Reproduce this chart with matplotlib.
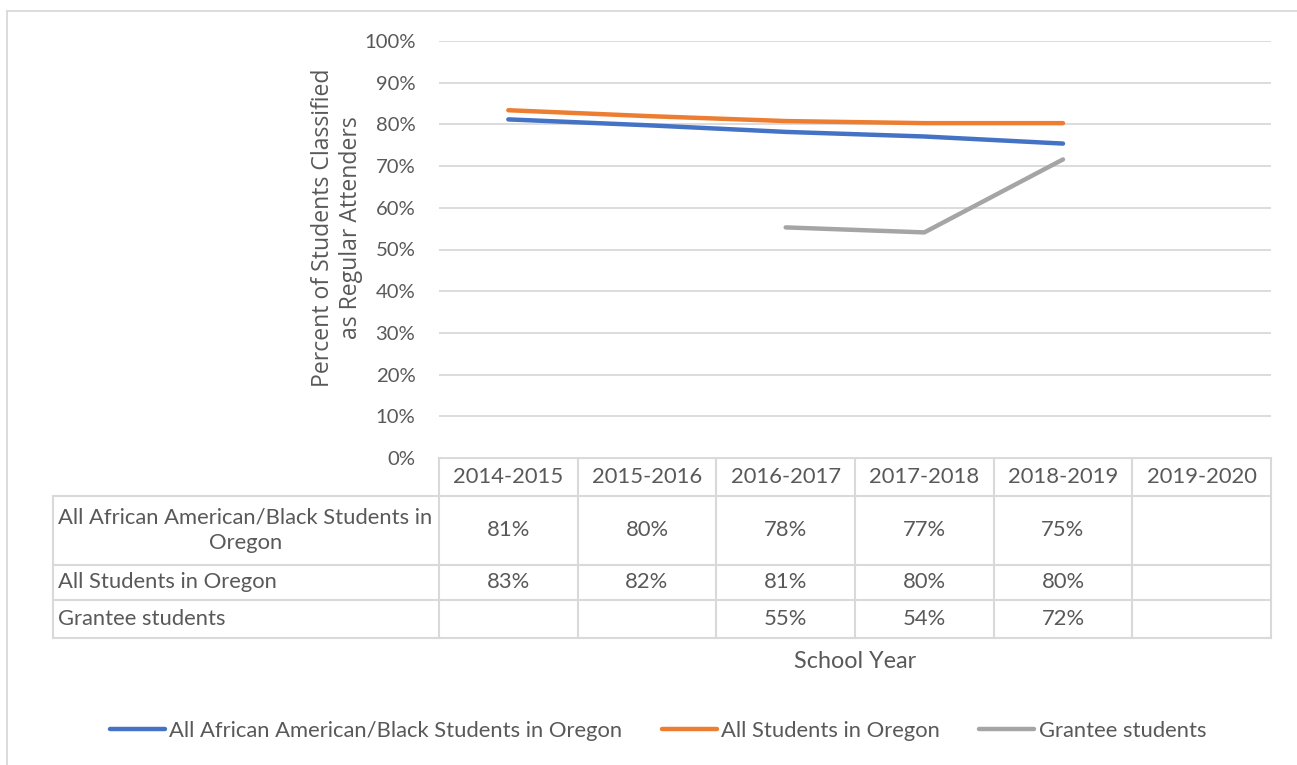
import matplotlib
matplotlib.use("Agg")
import matplotlib.pyplot as plt
import numpy as np

plt.rcParams['font.family'] = ['Lato', 'DejaVu Sans']

years = ['2014-2015', '2015-2016', '2016-2017', '2017-2018', '2018-2019', '2019-2020']
series_names = ['All African American/Black Students in Oregon',
                'All Students in Oregon',
                'Grantee students']
black_students = [0.812, 0.798, 0.782, 0.771, 0.754, np.nan]
all_students = [0.834, 0.820, 0.808, 0.803, 0.803, np.nan]
grantee = [np.nan, np.nan, 0.553, 0.541, 0.716, np.nan]
series = [black_students, all_students, grantee]
colors = ['#4472C4', '#ED7D31', '#A5A5A5']

W, H = 1297, 765
txt = '#595959'
grid = '#D9D9D9'
fs = 15.8

fig = plt.figure(figsize=(W / 100, H / 100), dpi=100)

# pixel helpers
def fx(px):
    return px / W

def fy(py):
    return 1 - py / H

x_left, x_right = 439, 1271
y_top, y_zero = 41, 458
ax = fig.add_axes([fx(x_left), fy(y_zero), fx(x_right - x_left), (y_zero - y_top) / H])
x = np.arange(len(years))
lines = []
for vals, c, name in zip(series, colors, series_names):
    ln, = ax.plot(x, vals, color=c, lw=3.2, solid_capstyle='round', label=name)
    lines.append(ln)
ax.set_xlim(-0.5, len(years) - 0.5)
ax.set_ylim(0, 1)
ax.set_yticks(np.arange(0, 1.01, 0.1))
ax.set_yticklabels([f'{int(round(t * 100))}%' for t in ax.get_yticks()], color=txt, fontsize=14.6)
ax.tick_params(axis='y', length=0, pad=17)
ax.set_xticks([])
for s in ax.spines.values():
    s.set_visible(False)
ax.yaxis.grid(True, color=grid, lw=1.3)
ax.set_axisbelow(True)

fig.text(fx(337), fy(228), 'Percent of Students Classified\nas Regular Attenders',
         rotation=90, ha='center', va='center', color=txt, fontsize=16.6,
         family=['Open Sans', 'DejaVu Sans'], linespacing=1.2)

# overlay in pixel coordinates for the data table and frame
ov = fig.add_axes([0, 0, 1, 1], zorder=-1)
ov.set_xlim(0, W)
ov.set_ylim(H, 0)
ov.axis('off')

ov.plot([7, 7], [11, H], color=grid, lw=1.3)
ov.plot([7, W], [11, 11], color=grid, lw=1.3)

col_edges = np.linspace(x_left, x_right, len(years) + 1)
row_edges = [458, 496, 565, 600, 638]
tbl_left = 53
lw_t = 1.5
# horizontal lines
ov.plot([x_left, x_right], [row_edges[0]] * 2, color=grid, lw=lw_t)
for r in row_edges[1:]:
    ov.plot([tbl_left, x_right], [r, r], color=grid, lw=lw_t)
# vertical lines
for c in col_edges:
    ov.plot([c, c], [row_edges[0], row_edges[-1]], color=grid, lw=lw_t)
ov.plot([tbl_left, tbl_left], [row_edges[1], row_edges[-1]], color=grid, lw=lw_t)

centers = (col_edges[:-1] + col_edges[1:]) / 2
hdr_y = (row_edges[0] + row_edges[1]) / 2
for cx, yr in zip(centers, years):
    ov.text(cx, hdr_y, yr, ha='center', va='center', color=txt, fontsize=fs)

row_labels = ['All African American/Black Students in\nOregon', series_names[1], series_names[2]]
for i, (lab, vals) in enumerate(zip(row_labels, series)):
    cy = (row_edges[i + 1] + row_edges[i + 2]) / 2
    ov.text(58, cy, lab, ha='left', va='center', multialignment='center',
            color=txt, fontsize=fs, linespacing=1.35)
    for cx, v in zip(centers, vals):
        if not np.isnan(v):
            ov.text(cx, cy, f'{int(round(v * 100))}%', ha='center', va='center',
                    color=txt, fontsize=fs)

ov.text((x_left + x_right) / 2, 661, 'School Year', ha='center', va='center',
        color=txt, fontsize=16.8)

fig.legend(handles=lines, loc='center', bbox_to_anchor=(fx(658), fy(731)),
           ncol=3, frameon=False, fontsize=fs, labelcolor=txt,
           handlelength=2.5, handletextpad=0.2, columnspacing=1.8)

fig.savefig('out.png', dpi=100)
